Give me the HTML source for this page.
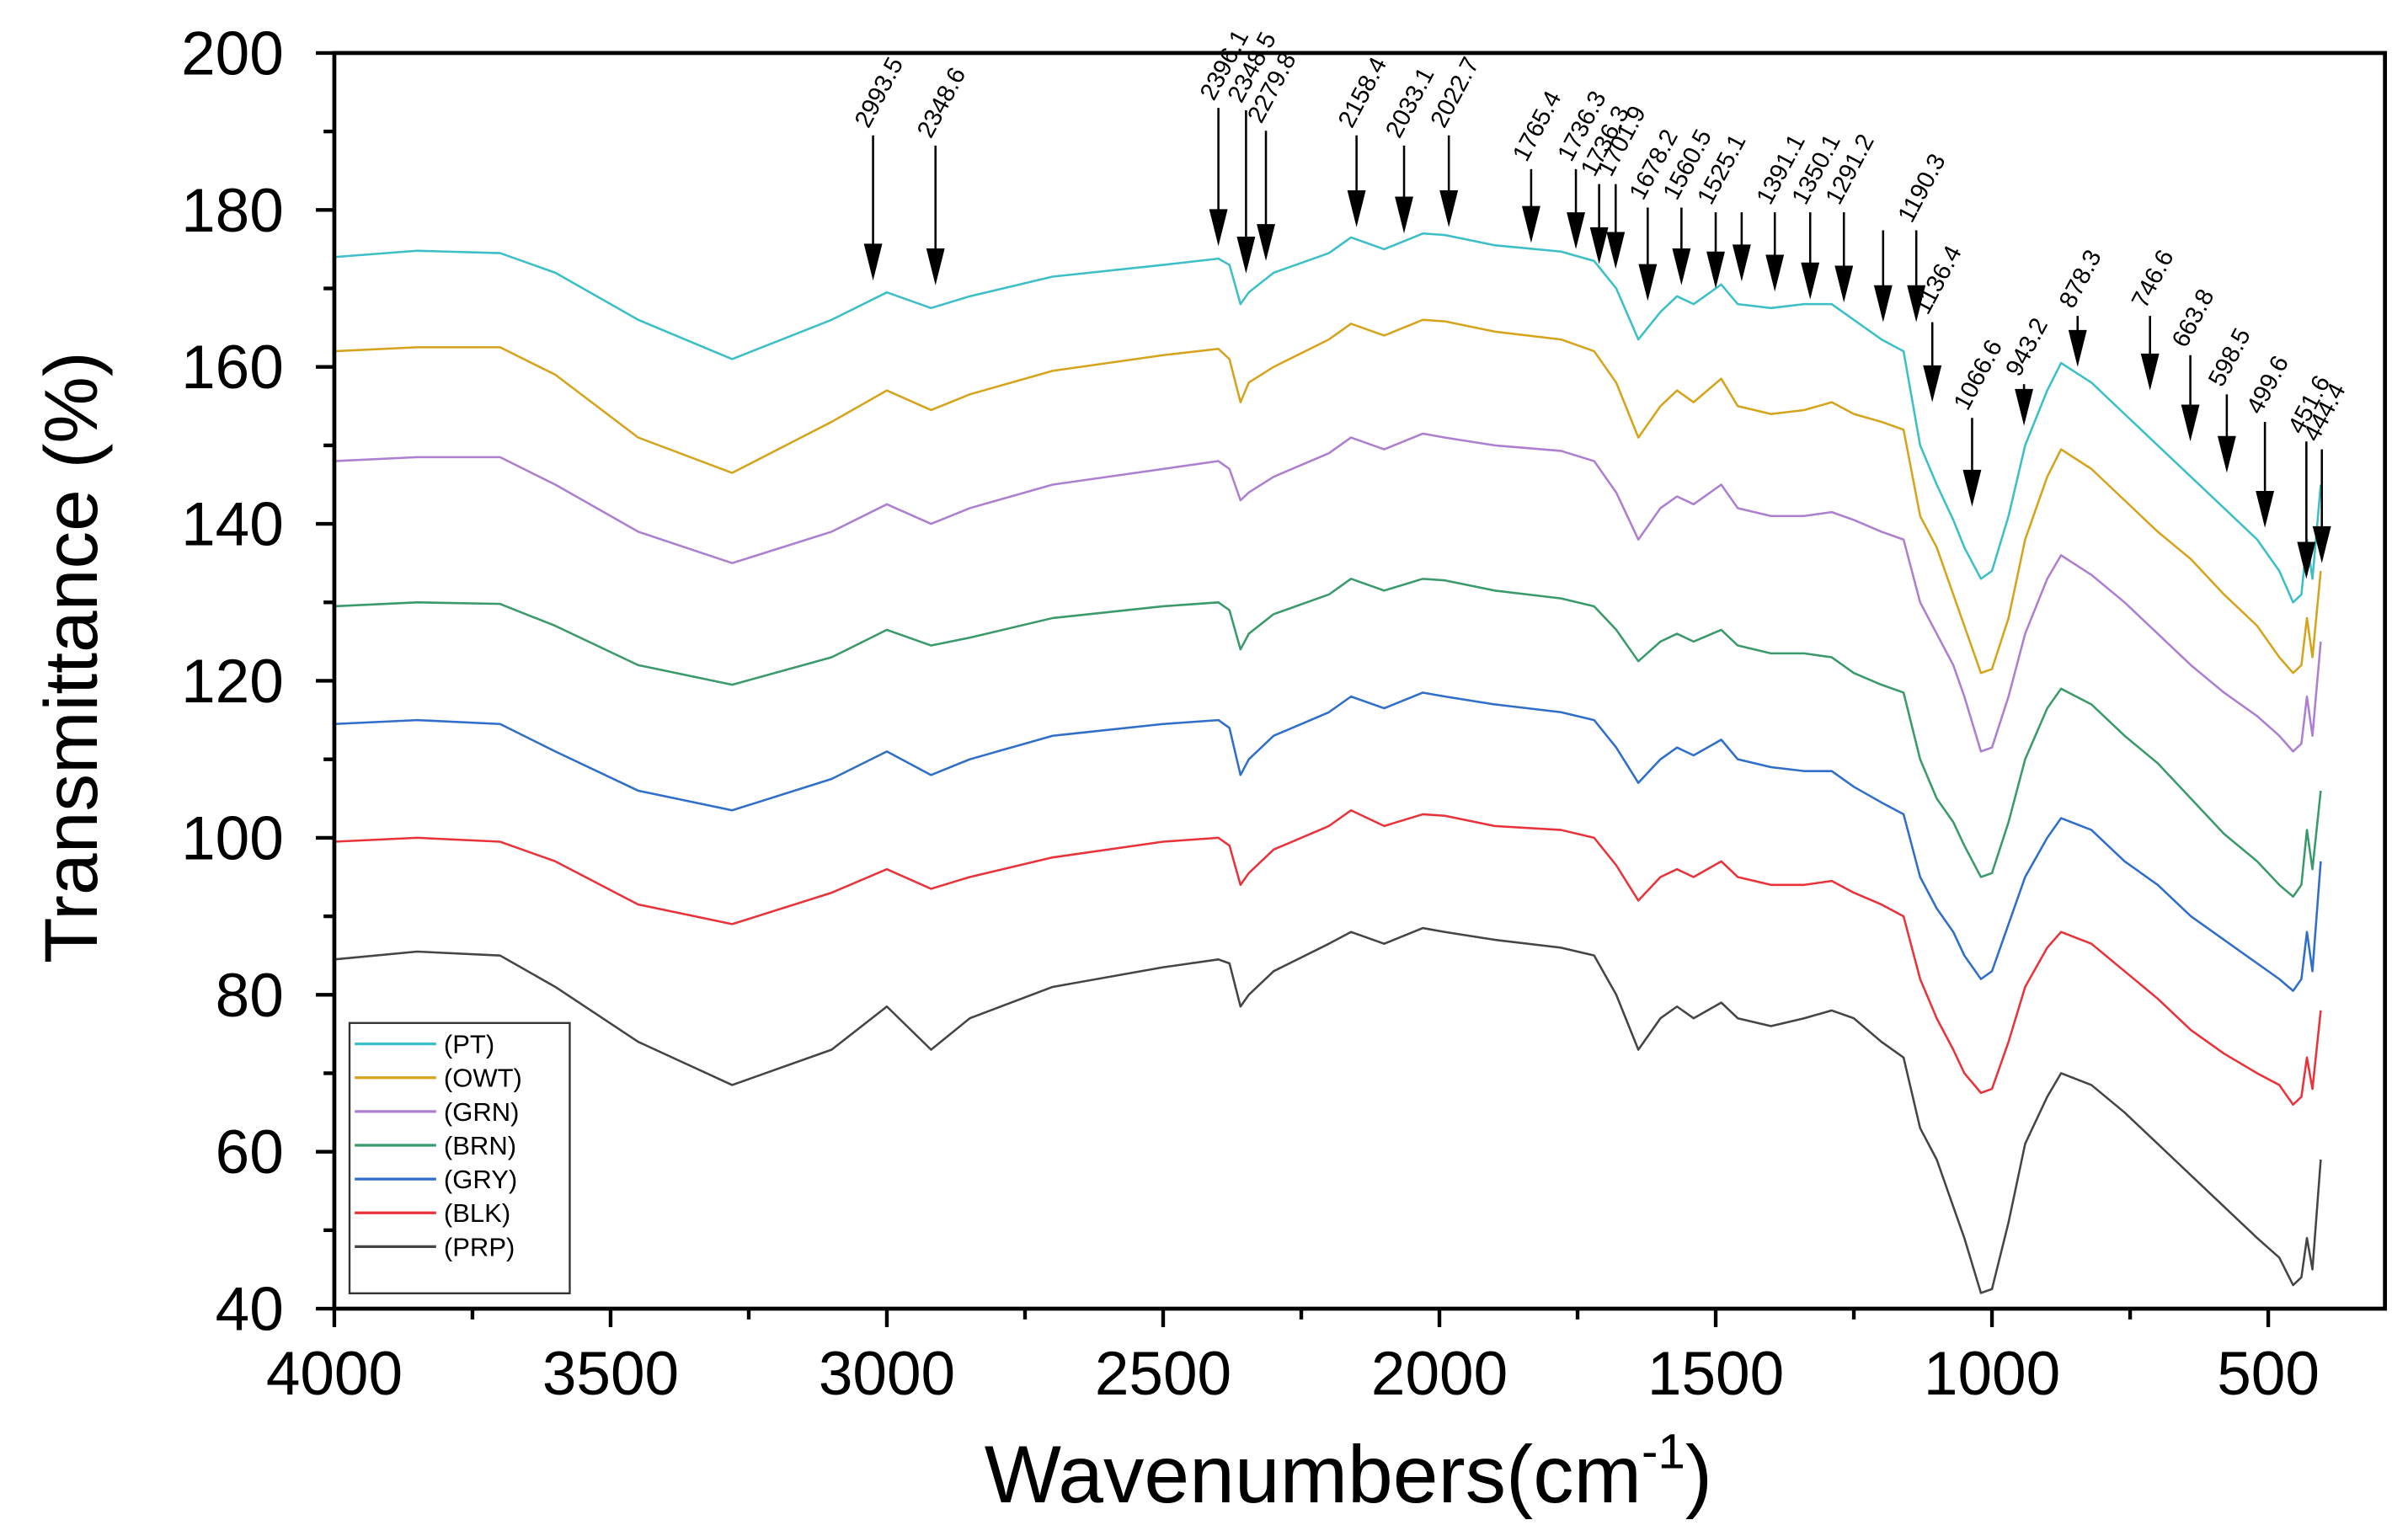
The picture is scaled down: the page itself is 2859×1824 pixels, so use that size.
<!DOCTYPE html>
<html><head><meta charset="utf-8"><style>
html,body{margin:0;padding:0;background:#fff;}
svg{display:block;}
text{font-family:"Liberation Sans",Arial,sans-serif;fill:#000;}
</style></head><body>
<svg id="chart" width="2859" height="1824" viewBox="0 0 1568 1000" preserveAspectRatio="none" xmlns="http://www.w3.org/2000/svg">
<g id="series"></g>
<g id="annots"></g>
<g id="axes"></g>
<g id="legend"></g>
</svg>
<script>
const wavenumbers=[4000,3850,3700,3600,3450,3280,3100,3000,2920,2850,2700,2500,2400,2380,2360,2345,2300,2200,2160,2100,2030,1990,1900,1780,1720,1680,1640,1600,1570,1540,1490,1460,1400,1340,1290,1250,1200,1160,1130,1100,1070,1050,1020,1000,970,940,900,875,820,760,700,640,580,520,480,455,440,430,420,405];
const seriesNames=["(PT)","(OWT)","(GRN)","(BRN)","(GRY)","(BLK)","(PRP)"];
const seriesColors=["#3cbfc6","#d6a41c","#ad7fd0","#3b9a6b","#2f6ec9","#e8333b","#454545"];
const ptValues=[174,174.8,174.5,172,166,161,166,169.5,167.5,169,171.5,173,173.8,173,168,169.5,172,174.5,176.5,175,177,176.8,175.5,174.7,173.5,170,163.5,167,169,168,170.5,168,167.5,168,168,166,163.5,162,150,145,140.5,137,133,134,141,150,157,160.5,158,154,150,146,142,138,134,130,131,138,133,145];
const owtValues=[162,162.5,162.5,159,151,146.5,153,157,154.5,156.5,159.5,161.5,162.3,161,155.5,158,160,163.5,165.5,164,166,165.8,164.5,163.5,162,158,151,155,157,155.5,158.5,155,154,154.5,155.5,154,153,152,141,137,131,127,121,121.5,128,138,146,149.5,147,143,139,135.5,131,127,123,121,122,128,123,134];
const grnValues=[148,148.5,148.5,145,139,135,139,142.5,140,142,145,147,148,147,143,144,146,149,151,149.5,151.5,151,150,149.3,148,144,138,142,143.5,142.5,145,142,141,141,141.5,140.5,139,138,130,126,122,118,111,111.5,118,126,133,136,133.5,130,126,122,118.5,115.5,113,111,112,118,113,125];
const brnValues=[129.5,130,129.8,127,122,119.5,123,126.5,124.5,125.5,128,129.5,130,129,124,126,128.5,131,133,131.5,133,132.8,131.5,130.5,129.5,126.5,122.5,125,126,125,126.5,124.5,123.5,123.5,123,121,119.5,118.5,110,105,102,99,95,95.5,102,110,116.5,119,117,113,109.5,105,100.5,97,94,92.5,94,101,96,106];
const gryValues=[114.5,115,114.5,111,106,103.5,107.5,111,108,110,113,114.5,115,114,108,110,113,116,118,116.5,118.5,118,117,116,115,111.5,107,110,111.5,110.5,112.5,110,109,108.5,108.5,106.5,104.5,103,95,91,88,85,82,83,89,95,100,102.5,101,97,94,90,87,84,82,80.5,82,88,83,97];
const blkValues=[99.5,100,99.5,97,91.5,89,93,96,93.5,95,97.5,99.5,100,99,94,95.5,98.5,101.5,103.5,101.5,103,102.8,101.5,101,100,96.5,92,95,96,95,97,95,94,94,94.5,93,91.5,90,82,77,73,70,67.5,68,74,81,86,88,86.5,83,79.5,75.5,72.5,70,68.5,66,67,72,68,78];
const prpValues=[84.5,85.5,85,81,74,68.5,73,78.5,73,77,81,83.5,84.5,84,78.5,80,83,86.5,88,86.5,88.5,88,87,86,85,80,73,77,78.5,77,79,77,76,77,78,77,74,72,63,59,53,49,42,42.5,51,61,67,70,68.5,65,61,57,53,49,46.5,43,44,49,45,59];
const allValues=[ptValues,owtValues,grnValues,brnValues,gryValues,blkValues,prpValues];
const yTicks=[40,60,80,100,120,140,160,180,200];
const xTicks=[4000,3500,3000,2500,2000,1500,1000,500];
const peakLabels=["2993.5","2348.6","2396.1","2348.5","2279.8","2158.4","2033.1","2022.7","1765.4","1736.3","1736.3","1701.9","1678.2","1560.5","1525.1","","1391.1","1350.1","1291.2","","1190.3","1136.4","1066.6","943.2","878.3","746.6","663.8","598.5","499.6","451.6","444.4"];
const peakPositions=[3025,2912,2400,2350,2314,2150,2064,1983,1834,1753,1711,1681,1623,1562,1500,1453,1393,1329,1268,1197,1137,1108,1036,942,845,714,641,575,506,431,403];
const peakTipValues=[171,170.4,175.4,171.9,173.5,177.8,177,177.8,175.8,175,173.1,172.5,168.4,170.4,170,170.9,169.6,168.6,168.2,165.7,165.7,155.5,142.2,152.5,160,157,150.5,146.5,139.5,133,135];
const peakTopValues=[189.5,188.2,193,192.7,190.1,189.5,188.2,189.5,185.2,185.2,183.3,183.3,180.3,180.3,179.7,179.7,179.7,179.7,179.7,177.4,177.4,165.7,153.5,157.8,166.5,166.5,161.5,156.5,153,150.5,149.5];

const NS="http://www.w3.org/2000/svg";
const L=217.7,R=1553,T=34.5,B=852;
function xs(w){return L+(4000-w)*0.3598;}
function ys(v){return B-(v-40)*(B-T)/160;}
function mk(tag,attrs,parent){const e=document.createElementNS(NS,tag);for(const k in attrs)e.setAttribute(k,attrs[k]);parent.appendChild(e);return e;}

const gS=document.getElementById('series');
allValues.forEach((vals,i)=>{
  let d='';
  vals.forEach((v,j)=>{d+=(j?'L':'M')+xs(wavenumbers[j]).toFixed(2)+' '+ys(v).toFixed(2);});
  const p=mk('path',{d:d,fill:'none',stroke:seriesColors[i],'stroke-width':1.4,'stroke-linejoin':'round'},gS);
  
  
});

const gA=document.getElementById('annots');
peakPositions.forEach((w,i)=>{
  const x=xs(w),yt=ys(peakTipValues[i]),y0=ys(peakTopValues[i]);
  const g=mk('g',{},gA);
  
  
  mk('line',{x1:x,y1:y0,x2:x,y2:yt-18,stroke:'#000','stroke-width':1.4},g);
  mk('polygon',{points:(x-6)+','+(yt-24)+' '+(x+6)+','+(yt-24)+' '+x+','+yt,fill:'#000'},g);
  if(peakLabels[i]){
    const t=mk('text',{x:x-3,y:y0-4,'font-size':16,transform:'rotate(-62 '+(x-3)+' '+(y0-4)+')'},g);
    t.textContent=peakLabels[i];
    
    
  }
});

const gX=document.getElementById('axes');
const frame=mk('rect',{x:L,y:T,width:R-L,height:B-T,fill:'none',stroke:'#000','stroke-width':2.6},gX);


yTicks.forEach(v=>{
  const y=ys(v);
  mk('line',{x1:L-12,y1:y,x2:L,y2:y,stroke:'#000','stroke-width':2.4},gX);
  if(v<200)mk('line',{x1:L-7,y1:ys(v+10),x2:L,y2:ys(v+10),stroke:'#000','stroke-width':2.4},gX);
  const t=mk('text',{x:L-33,y:y+14,'font-size':40,'text-anchor':'end'},gX);
  t.textContent=v;
  
  
});
xTicks.forEach(w=>{
  const x=xs(w);
  mk('line',{x1:x,y1:B,x2:x,y2:B+12,stroke:'#000','stroke-width':2.4},gX);
  if(w>500)mk('line',{x1:xs(w-250),y1:B,x2:xs(w-250),y2:B+7,stroke:'#000','stroke-width':2.4},gX);
  const t=mk('text',{x:x,y:B+56,'font-size':40,'text-anchor':'middle'},gX);
  t.textContent=w;
  
  
});
const yt=mk('text',{x:0,y:0,'font-size':49,'text-anchor':'middle',transform:'translate(63 428) rotate(-90)'},gX);
yt.textContent='Transmittance (%)';


const xt=mk('text',{x:878,y:978,'font-size':53,'text-anchor':'middle'},gX);
xt.innerHTML='Wavenumbers(cm<tspan dy="-22" font-size="32">-1</tspan><tspan dy="22">)</tspan>';



const gL=document.getElementById('legend');
const lb=mk('rect',{x:227.6,y:666,width:143.4,height:176,fill:'#fff',stroke:'#333','stroke-width':1.3},gL);


seriesNames.forEach((n,i)=>{
  const y=679.6+i*22;
  const g=mk('g',{},gL);
  
  
  mk('line',{x1:231,y1:y,x2:284,y2:y,stroke:seriesColors[i],'stroke-width':1.8},g);
  const t=mk('text',{x:289,y:y+6,'font-size':17},g);
  t.textContent=n;
});
</script>
</body></html>
